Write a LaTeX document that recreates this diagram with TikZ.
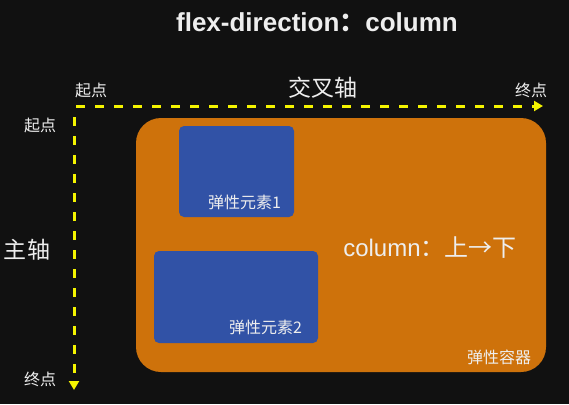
\documentclass[tikz,border=0pt]{standalone}
\usepackage{fontspec}
\setmainfont{Liberation Sans}
\newfontfamily\cjk{Noto Sans CJK SC}
\usetikzlibrary{arrows.meta,positioning}
\definecolor{bgdark}{HTML}{111111}
\definecolor{flexorange}{HTML}{CE720B}
\definecolor{flexblue}{HTML}{3152A6}
\definecolor{axisyellow}{HTML}{F4F400}
\definecolor{labelwhite}{HTML}{EEEEEE}

\begin{document}
\begin{tikzpicture}[
		x={(1pt,0pt)},
		y={(0pt,-1pt)},
		axis/.style={draw=axisyellow,line width=3pt,dash pattern=on 9pt off 10pt,-{Triangle[length=9pt,width=10pt]}},
		itembox/.style={fill=flexblue,rounded corners=5pt,inner sep=0pt},
		tag/.style={text=labelwhite,inner sep=0pt,font=\cjk\fontsize{#1}{#1}\selectfont},
	]
		\fill[bgdark] (0,0) rectangle (569,404);

		\node[text=labelwhite,font=\bfseries\fontsize{26}{26}\selectfont] (title) at (317,22) {flex-direction{\cjk：}column};

		\coordinate (xstart) at (76,106);
		\coordinate (xend) at (543,106);
		\coordinate (ystart) at (74,117);
		\coordinate (yend) at (74,390);
		\draw[axis] (xstart) -- (xend);
		\draw[axis] (ystart) -- (yend);

		\foreach \n/\x/\y/\t in {xstartlabel/91/90/起点, xendlabel/531/90/终点, ystartlabel/40/125/起点, yendlabel/40/379/终点}{
			\node[tag=16] (\n) at (\x,\y) {\t};
		}
		\node[tag=23] (crossaxis) at (323,88) {交叉轴};
		\node[tag=23] (mainaxis) at (27,250) {主轴};

		\node[fill=flexorange,rounded corners=25pt,minimum width=410pt,minimum height=254pt] (container) at (341,245) {};
		\node[itembox,minimum width=115pt,minimum height=91pt] (item1) at (236.5,171.5) {};
		\node[itembox,minimum width=164pt,minimum height=92pt] (item2) at (236,297) {};

		\node[tag=16,anchor=south east] (item1label) at ([shift={(-13,-7)}]item1.south east) {弹性元素1};
		\node[tag=16,anchor=south east] (item2label) at ([shift={(-16,-8)}]item2.south east) {弹性元素2};
		\node[tag=16,anchor=south east] (containerlabel) at ([shift={(-15,-7)}]container.south east) {弹性容器};
		\node[tag=24] (direction) at (430,248) {{\rmfamily column}：上→下};
	\end{tikzpicture}
\end{document}
